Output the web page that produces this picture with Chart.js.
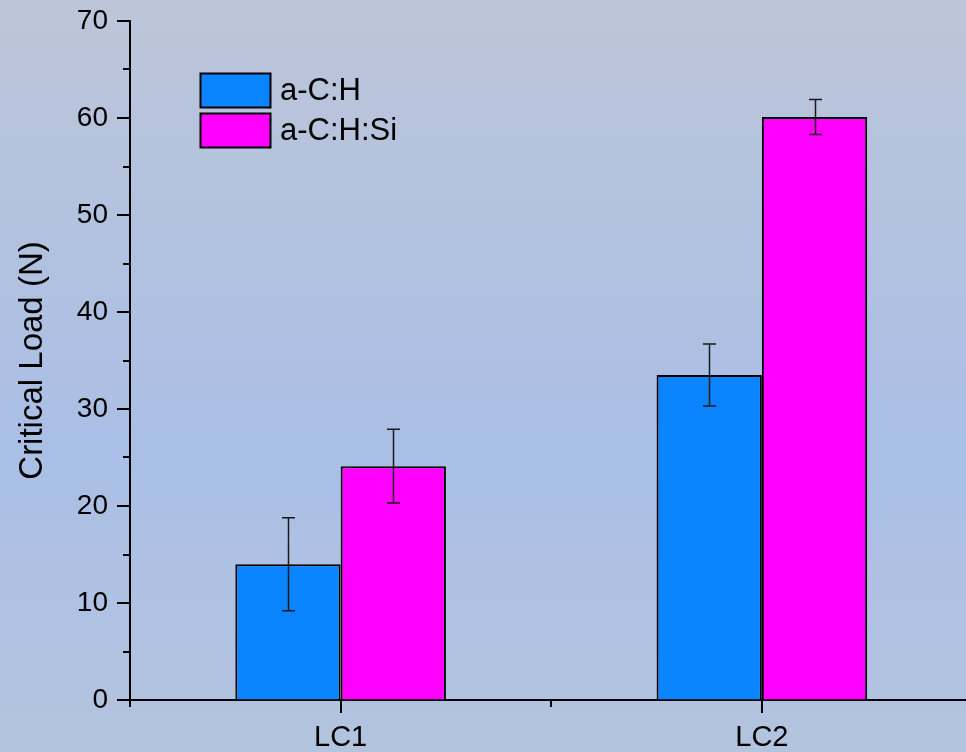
<!DOCTYPE html>
<html>
<head>
<meta charset="utf-8">
<script src="https://cdn.jsdelivr.net/npm/chart.js@4"></script>
<style>
  html, body { margin: 0; padding: 0; overflow: hidden; }
  body {
    width: 966px; height: 752px;
    background: linear-gradient(#bdc6d9 0%, #b2c2df 30%, #aabfe6 60%, #b3c4de 100%);
  }
  #wrap { position: absolute; left: 0; top: 0; width: 980px; height: 752px; }
</style>
</head>
<body>
<div id="wrap"><canvas id="chart" width="980" height="752"></canvas></div>
<script>
// Kategorien und Messwerte (Mittelwert + Standardabweichung)
const categories = ["LC1", "LC2"];
const seriesNames = ["a-C:H", "a-C:H:Si"];
const acH = [14.0, 33.5];
const acHErr = [4.8, 3.2];
const acHSi = [24.1, 60.1];
const acHSiErr = [3.8, 1.8];
const yTickValues = [0, 10, 20, 30, 40, 50, 60, 70];
const yMinorStep = 5;

const errors = [acHErr, acHSiErr];

// Fehlerbalken über den Säulen
const errorBars = {
  id: "errorBars",
  afterDatasetsDraw(chart) {
    const ctx = chart.ctx;
    const y = chart.scales.y;
    ctx.save();
    ctx.strokeStyle = "#1a1a1a";
    ctx.lineWidth = 1.5;
    chart.data.datasets.forEach((ds, i) => {
      const meta = chart.getDatasetMeta(i);
      meta.data.forEach((bar, j) => {
        const v = ds.data[j], e = errors[i][j];
        const top = y.getPixelForValue(v + e);
        const bot = y.getPixelForValue(v - e);
        const x = Math.round(bar.x) + 0.5;
        ctx.beginPath();
        ctx.moveTo(x, top); ctx.lineTo(x, bot);
        ctx.moveTo(x - 6.5, top); ctx.lineTo(x + 6.5, top);
        ctx.moveTo(x - 6.5, bot); ctx.lineTo(x + 6.5, bot);
        ctx.stroke();
      });
    });
    ctx.restore();
  }
};

// Haupt- und Nebenstriche nach außen, Legende oben links
const axisTicks = {
  id: "axisTicks",
  afterDraw(chart) {
    const ctx = chart.ctx;
    const xs = chart.scales.x, ys = chart.scales.y;
    const area = chart.chartArea;
    ctx.save();
    ctx.strokeStyle = "#000";
    ctx.lineWidth = 2;
    ctx.beginPath();
    for (let v = ys.min; v <= ys.max; v += yMinorStep) {
      const py = Math.round(ys.getPixelForValue(v));
      const len = v % 10 === 0 ? 13 : 7;
      ctx.moveTo(area.left, py); ctx.lineTo(area.left - len, py);
    }
    const px = categories.map((c, i) => xs.getPixelForValue(i));
    const half = (px[1] - px[0]) / 2;
    px.forEach(p => {
      ctx.moveTo(Math.round(p), area.bottom); ctx.lineTo(Math.round(p), area.bottom + 13);
      ctx.moveTo(Math.round(p - half), area.bottom); ctx.lineTo(Math.round(p - half), area.bottom + 7);
    });
    ctx.moveTo(Math.round(px[1] + half), area.bottom); ctx.lineTo(Math.round(px[1] + half), area.bottom + 7);
    ctx.stroke();

    // Legende
    ctx.font = "31px 'Liberation Sans', Arial, sans-serif";
    ctx.textBaseline = "middle";
    chart.data.datasets.forEach((ds, i) => {
      const bx = 200.5, by = 73.5 + i * 40;
      ctx.fillStyle = ds.backgroundColor;
      ctx.fillRect(bx, by, 70, 34);
      ctx.lineWidth = 2;
      ctx.strokeStyle = "#000";
      ctx.strokeRect(bx, by, 70, 34);
      ctx.fillStyle = "#000";
      ctx.fillText(ds.label, 280, by + 18);
    });
    ctx.restore();
  }
};

new Chart(document.getElementById("chart"), {
  type: "bar",
  data: {
    labels: categories,
    datasets: [
      { label: seriesNames[0], data: acH, backgroundColor: "#0a84ff", borderColor: "#000", borderWidth: 2 },
      { label: seriesNames[1], data: acHSi, backgroundColor: "#ff00ff", borderColor: "#000", borderWidth: 2 }
    ]
  },
  options: {
    responsive: false,
    animation: false,
    categoryPercentage: 0.5,
    barPercentage: 1.0,
    layout: { padding: { top: 21, right: 7.5, left: 0, bottom: 0 } },
    plugins: { legend: { display: false }, tooltip: { enabled: false } },
    scales: {
      x: {
        offset: true,
        grid: { drawOnChartArea: false, drawTicks: false },
        border: { display: true, color: "#000", width: 2 },
        ticks: { color: "#000", padding: 21, font: { family: "'Liberation Sans', Arial", size: 29 } },
        afterFit: s => { s.height = 52; s.paddingLeft = 0; s.paddingRight = 0; }
      },
      y: {
        min: 0, max: 70,
        afterBuildTicks: s => { s.ticks = yTickValues.map(v => ({ value: v })); },
        grid: { drawOnChartArea: false, drawTicks: false },
        border: { display: true, color: "#000", width: 2 },
        ticks: { color: "#000", padding: 22, font: { family: "'Liberation Sans', Arial", size: 28 } },
        title: {
          display: true, text: "Critical Load (N)", color: "#000",
          padding: { top: 13 },
          font: { family: "'Liberation Sans', Arial", size: 33 }
        },
        afterFit: s => { s.width = 130; s.paddingTop = 0; s.paddingBottom = 0; }
      }
    }
  },
  plugins: [errorBars, axisTicks]
});
</script>
</body>
</html>
